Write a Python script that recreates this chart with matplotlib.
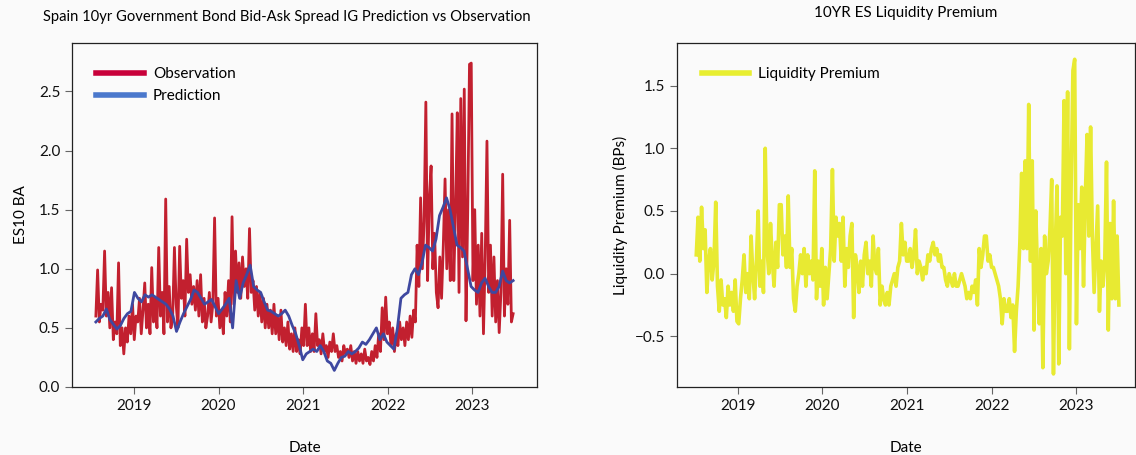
import numpy as np
import pandas as pd
import matplotlib
matplotlib.use("Agg")
import matplotlib.pyplot as plt
import matplotlib.dates as mdates
from matplotlib.lines import Line2D

plt.rcParams['font.family'] = ['Lato', 'DejaVu Sans']
plt.rcParams['font.size'] = 11

# observed bid-ask spread, 4 values per month, Jul 2018 .. Jun 2023
observation = [
    0.6, 0.99, 0.55, 0.7,   0.65, 1.15, 0.6, 0.8,   0.5, 0.84, 0.4, 0.55,
    0.45, 1.05, 0.35, 0.5,  0.28, 0.5, 0.38, 0.6,   0.45, 0.7, 0.4, 0.6,
    0.55, 0.75, 0.45, 0.65, 0.88, 0.5, 0.7, 0.45,   1.01, 0.55, 0.75, 0.5,
    1.18, 0.6, 0.8, 0.45,   1.59, 0.55, 0.85, 0.5,  0.6, 1.18, 0.7, 0.5,
    1.19, 0.75, 0.9, 0.6,   1.25, 0.8, 0.95, 0.7,   0.85, 0.65, 0.9, 0.6,
    0.95, 0.55, 0.75, 0.5,  0.6, 0.8, 0.55, 0.7,    1.43, 0.6, 0.75, 0.5,
    0.65, 0.45, 0.8, 0.6,   0.9, 0.55, 1.44, 0.7,   1.15, 0.8, 1.05, 0.75,
    1.1, 0.85, 1.0, 0.75,   1.34, 0.8, 0.9, 0.65,   0.85, 0.6, 0.8, 0.55,
    0.75, 0.5, 0.7, 0.5,    0.65, 0.45, 0.7, 0.45,  0.6, 0.4, 0.65, 0.38,
    0.5, 0.35, 0.55, 0.32,  0.45, 0.3, 0.5, 0.3,    0.4, 0.28, 0.5, 0.35,
    0.7, 0.35, 0.5, 0.3,    0.45, 0.3, 0.62, 0.35,  0.4, 0.28, 0.45, 0.3,
    0.35, 0.25, 0.38, 0.3,  0.45, 0.3, 0.35, 0.25,  0.3, 0.22, 0.35, 0.28,
    0.32, 0.25, 0.35, 0.22, 0.3, 0.2, 0.3, 0.22,    0.28, 0.2, 0.32, 0.22,
    0.25, 0.19, 0.3, 0.22,  0.35, 0.25, 0.45, 0.3,  0.67, 0.4, 0.76, 0.45,
    0.55, 0.35, 0.5, 0.3,   0.45, 0.35, 0.55, 0.4,  0.5, 0.35, 0.55, 0.4,
    0.6, 0.42, 0.65, 0.55,  1.2, 0.85, 1.6, 1.0,    1.4, 2.41, 0.9, 1.6,
    1.87, 1.0, 1.3, 0.8,    0.67, 1.1, 0.75, 1.2,   1.76, 1.0, 1.5, 0.9,
    2.31, 0.9, 1.5, 2.32,   0.8, 2.44, 1.1, 2.52,   0.56, 1.5, 2.73, 2.74,
    0.9, 1.5, 0.7, 1.2,     0.6, 1.3, 0.45, 1.1,    2.08, 0.8, 1.2, 0.6,
    1.1, 0.55, 0.9, 0.46,   0.8, 1.8, 0.6, 1.0,     0.7, 1.41, 0.55, 0.62,
]

# model prediction, 2 values per month
prediction = [
    0.55, 0.58, 0.6, 0.66, 0.57, 0.53, 0.49, 0.52, 0.58, 0.62, 0.64, 0.8,
    0.75, 0.72, 0.78, 0.76, 0.78, 0.76, 0.74, 0.72, 0.7, 0.66, 0.6, 0.47,
    0.55, 0.62, 0.68, 0.74, 0.82, 0.8, 0.75, 0.7, 0.72, 0.74, 0.68, 0.62,
    0.66, 0.7, 0.75, 0.5, 0.9, 0.75, 0.88, 0.95, 1.03, 0.85, 0.82, 0.8,
    0.72, 0.65, 0.64, 0.62, 0.6, 0.62, 0.65, 0.6, 0.52, 0.45, 0.35, 0.23,
    0.28, 0.3, 0.32, 0.3, 0.35, 0.3, 0.22, 0.2, 0.14, 0.2, 0.25, 0.26,
    0.3, 0.28, 0.3, 0.33, 0.38, 0.36, 0.4, 0.45, 0.5, 0.4, 0.45, 0.38,
    0.35, 0.32, 0.5, 0.75, 0.78, 0.8, 0.95, 1.0, 0.95, 1.05, 1.2, 1.18,
    1.15, 1.25, 1.45, 1.52, 1.6, 1.5, 1.35, 1.2, 1.18, 1.15, 1.0, 0.85,
    0.82, 0.8, 0.88, 0.92, 0.85, 0.8, 0.8, 0.85, 0.98, 0.9, 0.88, 0.9,
]

# liquidity premium (BPs), 4 values per month
liquidity = [
    0.15, 0.45, 0.1, 0.53,   0.2, 0.35, -0.15, 0.1,   0.2, -0.05, 0.1, 0.57,
    -0.1, -0.3, -0.05, -0.25, -0.2, -0.35, -0.1, -0.25, -0.15, -0.3, -0.05, -0.38,
    -0.4, -0.2, -0.05, 0.15, -0.15, 0.0, -0.2, 0.3,   0.0, -0.2, 0.1, 0.5,
    -0.1, 0.1, -0.15, 1.0,   0.2, 0.0, 0.4, 0.1,      -0.1, 0.25, 0.05, 0.55,
    0.55, 0.15, 0.3, 0.05,   0.62, 0.05, 0.2, -0.2,   -0.3, -0.1, 0.0, 0.15,
    0.0, 0.2, -0.1, 0.15,    0.0, 0.1, -0.05, 0.82,   -0.2, 0.1, -0.1, 0.2,
    -0.25, 0.05, -0.2, 0.0,  0.2, 0.83, 0.1, 0.45,    0.3, 0.4, 0.1, 0.45,
    -0.1, 0.2, 0.05, 0.3,    0.4, -0.35, 0.15, 0.05,  -0.15, 0.1, -0.1, 0.15,
    0.25, 0.0, 0.1, -0.1,    0.3, 0.05, 0.0, 0.2,     -0.25, -0.1, -0.2, -0.25,
    -0.15, -0.25, -0.1, -0.05, 0.0, -0.1, 0.05, 0.1,  0.4, 0.15, 0.25, 0.1,
    0.1, 0.2, 0.05, 0.15,    0.35, 0.0, 0.1, 0.05,    -0.05, 0.05, 0.0, 0.15,
    0.1, 0.2, 0.25, 0.15,    0.2, 0.1, 0.15, 0.05,    0.05, -0.05, -0.1, 0.0,
    -0.05, -0.1, 0.0, -0.1,  -0.1, -0.05, 0.0, -0.05, -0.1, -0.2, -0.15, -0.2,
    -0.1, -0.15, -0.05, -0.25, 0.2, 0.05, 0.15, 0.3,  0.3, 0.1, 0.15, 0.05,
    0.05, 0.0, -0.05, -0.1,  -0.2, -0.4, -0.2, -0.3,  -0.3, -0.2, -0.35, -0.25,
    -0.62, -0.3, -0.1, 0.25, 0.8, 0.2, 0.9, 0.2,      1.35, 0.1, 0.9, -0.45,
    0.5, 0.0, -0.4, 0.2,     -0.75, 0.3, 0.0, 0.1,    0.35, 0.75, -0.8, 0.2,
    0.7, -0.72, 0.45, 0.3,   1.38, 0.0, 1.45, -0.6,   0.7, 1.62, 1.71, -0.4,
    0.55, 0.2, 0.69, -0.1,   0.6, 1.11, 0.3, 1.17,    0.3, -0.15, 0.2, 0.54,
    -0.3, 0.1, -0.1, 0.1,    0.89, -0.45, 0.4, -0.2,  0.58, -0.2, 0.3, -0.25,
]

obs_dates = pd.date_range('2018-07-20', '2023-06-27', periods=len(observation))
pred_dates = pd.date_range('2018-07-20', '2023-06-27', periods=len(prediction))
lp_dates = pd.date_range('2018-07-05', '2023-07-05', periods=len(liquidity))

bg = '#fafafa'
fig = plt.figure(figsize=(11.36, 4.55), dpi=100, facecolor=bg)
ax1 = fig.add_axes([0.0634, 0.1495, 0.4093, 0.756], facecolor=bg)
ax2 = fig.add_axes([0.596, 0.1495, 0.4032, 0.756], facecolor=bg)

ax1.plot(obs_dates, observation, color='#c2202f', lw=2.0)
ax1.plot(pred_dates, prediction, color='#3e48a0', lw=2.0)
ax2.plot(lp_dates, liquidity, color='#e8ea32', lw=2.6)

ax1.set_xlim(pd.Timestamp('2018-04-08'), pd.Timestamp('2023-10-08'))
ax1.set_ylim(0, 2.91)
ax1.set_yticks([0.0, 0.5, 1.0, 1.5, 2.0, 2.5])
ax2.set_xlim(pd.Timestamp('2018-04-13'), pd.Timestamp('2023-09-13'))
ax2.set_ylim(-0.904, 1.84)
ax2.set_yticks([-0.5, 0.0, 0.5, 1.0, 1.5])

for ax in (ax1, ax2):
    ax.xaxis.set_major_locator(mdates.YearLocator())
    ax.xaxis.set_major_formatter(mdates.DateFormatter('%Y'))
    ax.tick_params(length=5, color='#666666', labelcolor='#111111')
    for s in ax.spines.values():
        s.set_color('#222222')
        s.set_linewidth(0.9)
    ax.set_xlabel('Date', labelpad=20)

ax1.set_ylabel('ES10 BA', labelpad=8)
ax2.set_ylabel('Liquidity Premium (BPs)', labelpad=5)
ax1.set_title('Spain 10yr Government Bond Bid-Ask Spread IG Prediction vs Observation',
              pad=16, x=0.463, fontsize=10.6)
ax2.set_title('10YR ES Liquidity Premium', pad=19, fontsize=11)

h1 = [Line2D([], [], color='#c8003a', lw=4), Line2D([], [], color='#4a78cc', lw=4)]
ax1.legend(h1, ['Observation', 'Prediction'], loc='upper left', frameon=False,
           handlelength=3.1, handletextpad=0.6, borderaxespad=1.2)
h2 = [Line2D([], [], color='#e8ee30', lw=4)]
ax2.legend(h2, ['Liquidity Premium'], loc='upper left', frameon=False,
           handlelength=3.1, handletextpad=0.6, borderaxespad=1.2)

fig.savefig('out.png', dpi=100, facecolor=bg)
